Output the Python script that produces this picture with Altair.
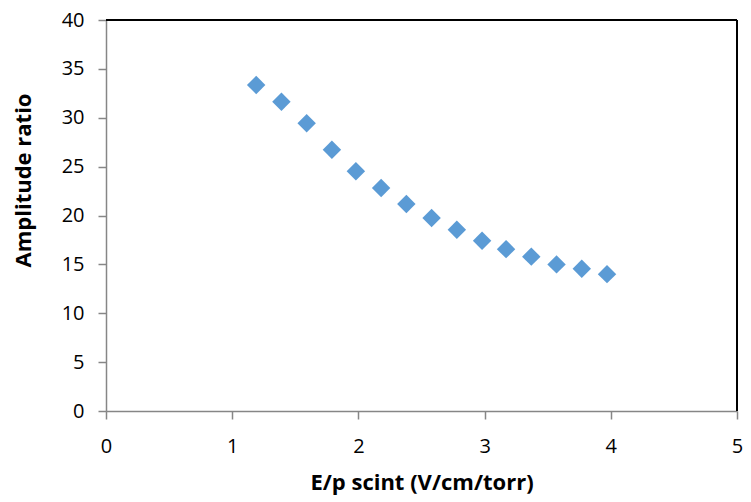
import altair as alt
import pandas as pd

ep = [1.19, 1.39, 1.59, 1.79, 1.98, 2.18, 2.38, 2.58, 2.78, 2.98, 3.17, 3.37, 3.57, 3.77, 3.97]
ratio = [33.35, 31.64, 29.43, 26.73, 24.52, 22.81, 21.18, 19.74, 18.55, 17.42, 16.56, 15.79, 15.0, 14.56, 14.0]
x_ticks = [0, 1, 2, 3, 4, 5]
y_ticks = [0, 5, 10, 15, 20, 25, 30, 35, 40]

df = pd.DataFrame({"ep": ep, "ratio": ratio})

FONT = "Open Sans"

xscale = alt.Scale(domain=[0, 5], nice=False)
yscale = alt.Scale(domain=[0, 40], nice=False)

W, H = 631, 391

points = alt.Chart(df).mark_point(
    shape="diamond", filled=True, color="#5B9BD5", size=340, opacity=1
).encode(
    x=alt.X("ep:Q", scale=xscale, title="E/p scint (V/cm/torr)",
            axis=alt.Axis(values=x_ticks, format="d", grid=False, domainColor="#868686",
                          domainWidth=1.5, tickWidth=1.5, labelFlush=False,
                          labelOverlap=False,
                          tickColor="#868686", tickSize=8, labelFontSize=20,
                          labelPadding=17, titleFontSize=22, titleFontWeight="bold",
                          titleBaseline="alphabetic", titleY=78,
                          labelColor="#000000", titleColor="#000000")),
    y=alt.Y("ratio:Q", scale=yscale, title="Amplitude ratio",
            axis=alt.Axis(values=y_ticks, format="d", grid=False, domainColor="#868686",
                          domainWidth=1.5, tickWidth=1.5, labelFlush=False,
                          labelOverlap=False,
                          tickColor="#868686", tickSize=8, labelFontSize=20,
                          labelPadding=14, titleFontSize=22, titleFontWeight="bold",
                          titleBaseline="middle", titleX=-83, titleY=160,
                          labelColor="#000000", titleColor="#000000")),
)

top = alt.Chart(df).mark_rule(color="#000000", strokeWidth=1.5).encode(
    y=alt.datum(40, scale=yscale), x=alt.value(0), x2=alt.value(W)
)
right = alt.Chart(df).mark_rule(color="#000000", strokeWidth=1.5).encode(
    x=alt.datum(5, scale=xscale), y=alt.value(0), y2=alt.value(H)
)

chart = alt.layer(top, right, points).properties(
    width=W, height=H,
    autosize=alt.AutoSizeParams(type="none"),
    padding={"left": 98, "top": 12, "right": 6, "bottom": 86},
).configure_view(stroke=None).configure(font=FONT)

chart.save("out.html", embed_options={"renderer": "svg", "actions": False})
